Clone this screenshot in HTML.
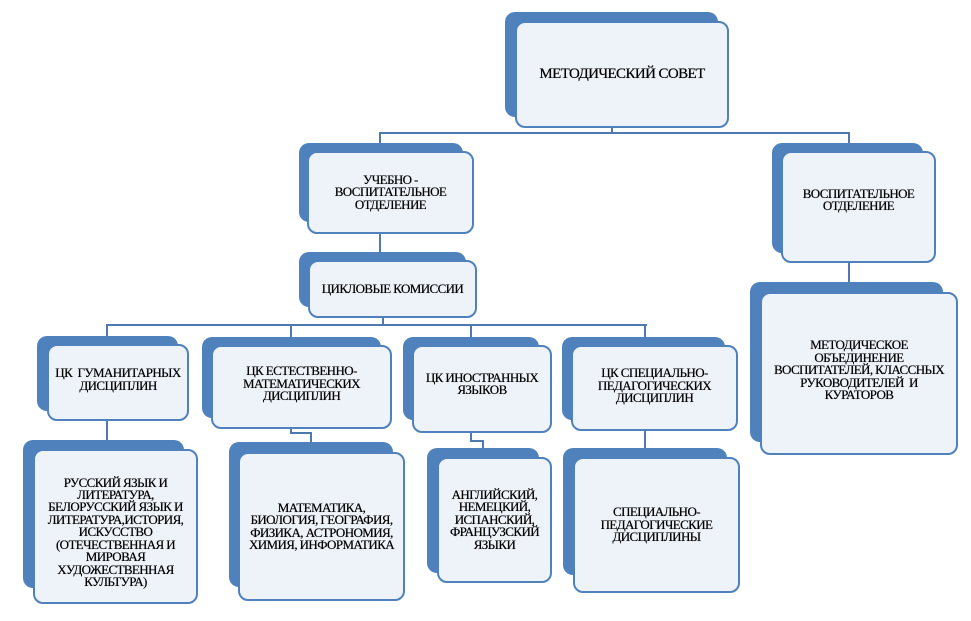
<!DOCTYPE html>
<html><head><meta charset="utf-8"><style>
body{margin:0;width:971px;height:621px;background:#fff;position:relative;overflow:hidden;font-family:"Liberation Serif",serif;}
.b{position:absolute;background:#4f81bd;border-radius:10px;}
.f{position:absolute;background:#eef2f9;border:2px solid #4f81bd;border-radius:10px;box-sizing:border-box;display:flex;align-items:center;justify-content:center;text-align:center;font-size:13px;line-height:12.4px;letter-spacing:-0.6px;color:#000;padding:0 4px;text-shadow:0 0 0.4px #000;}
.l{position:absolute;background:#4f7ab0;}
</style></head><body>
<div class="l" style="left:611px;top:126px;width:2px;height:8px"></div>
<div class="l" style="left:379px;top:132px;width:471px;height:2px"></div>
<div class="l" style="left:379px;top:132px;width:2px;height:12px"></div>
<div class="l" style="left:848px;top:132px;width:2px;height:12px"></div>
<div class="l" style="left:379px;top:232px;width:2px;height:22px"></div>
<div class="l" style="left:848px;top:261px;width:2px;height:25px"></div>
<div class="l" style="left:382px;top:316px;width:2px;height:10px"></div>
<div class="l" style="left:106px;top:324px;width:541px;height:2px"></div>
<div class="l" style="left:106px;top:324px;width:2px;height:14px"></div>
<div class="l" style="left:290px;top:324px;width:2px;height:14px"></div>
<div class="l" style="left:470px;top:324px;width:2px;height:14px"></div>
<div class="l" style="left:644px;top:324px;width:2px;height:14px"></div>
<div class="l" style="left:106px;top:419px;width:2px;height:22px"></div>
<div class="l" style="left:290px;top:427px;width:2px;height:7px"></div>
<div class="l" style="left:290px;top:432px;width:22px;height:2px"></div>
<div class="l" style="left:310px;top:432px;width:2px;height:12px"></div>
<div class="l" style="left:470px;top:431px;width:2px;height:11px"></div>
<div class="l" style="left:470px;top:440px;width:14px;height:2px"></div>
<div class="l" style="left:482px;top:440px;width:2px;height:10px"></div>
<div class="l" style="left:644px;top:429px;width:2px;height:20px"></div>

<div class="b" style="left:505px;top:12px;width:213px;height:105px"></div>
<div class="f" style="left:515px;top:21px;width:214px;height:107px;font-size:15px">МЕТОДИЧЕСКИЙ СОВЕТ</div>

<div class="b" style="left:299px;top:143px;width:164px;height:79px"></div>
<div class="f" style="left:307px;top:151px;width:167px;height:83px">УЧЕБНО -<br>ВОСПИТАТЕЛЬНОЕ<br>ОТДЕЛЕНИЕ</div>

<div class="b" style="left:299px;top:252px;width:167px;height:55px"></div>
<div class="f" style="left:308px;top:260px;width:169px;height:58px">ЦИКЛОВЫЕ КОМИССИИ</div>

<div class="b" style="left:772px;top:143px;width:151px;height:110px"></div>
<div class="f" style="left:781px;top:151px;width:155px;height:112px;padding-bottom:14px">ВОСПИТАТЕЛЬНОЕ<br>ОТДЕЛЕНИЕ</div>

<div class="b" style="left:750px;top:282px;width:193px;height:160px"></div>
<div class="f" style="left:760px;top:292px;width:198px;height:163px;padding-bottom:6px">МЕТОДИЧЕСКОЕ<br>ОБЪЕДИНЕНИЕ<br>ВОСПИТАТЕЛЕЙ, КЛАССНЫХ<br>РУКОВОДИТЕЛЕЙ&nbsp; И<br>КУРАТОРОВ</div>

<div class="b" style="left:37px;top:336px;width:141px;height:75px"></div>
<div class="f" style="left:47px;top:344px;width:142px;height:77px;padding-bottom:6px">ЦК&nbsp; ГУМАНИТАРНЫХ<br>ДИСЦИПЛИН</div>

<div class="b" style="left:202px;top:337px;width:179px;height:81px"></div>
<div class="f" style="left:211px;top:345px;width:181px;height:84px;padding-bottom:6px">ЦК ЕСТЕСТВЕННО-<br>МАТЕМАТИЧЕСКИХ<br>ДИСЦИПЛИН</div>

<div class="b" style="left:403px;top:337px;width:136px;height:83px"></div>
<div class="f" style="left:412px;top:345px;width:140px;height:88px;padding-bottom:10px">ЦК ИНОСТРАННЫХ<br>ЯЗЫКОВ</div>

<div class="b" style="left:562px;top:337px;width:163px;height:83px"></div>
<div class="f" style="left:571px;top:345px;width:167px;height:86px;padding-bottom:4px">ЦК СПЕЦИАЛЬНО-<br>ПЕДАГОГИЧЕСКИХ<br>ДИСЦИПЛИН</div>

<div class="b" style="left:23px;top:440px;width:161px;height:148px"></div>
<div class="f" style="left:33px;top:449px;width:165px;height:155px;padding-top:12px">РУССКИЙ ЯЗЫК И<br>ЛИТЕРАТУРА,<br>БЕЛОРУССКИЙ ЯЗЫК И<br>ЛИТЕРАТУРА,ИСТОРИЯ,<br>ИСКУССТВО<br>(ОТЕЧЕСТВЕННАЯ И<br>МИРОВАЯ<br>ХУДОЖЕСТВЕННАЯ<br>КУЛЬТУРА)</div>

<div class="b" style="left:229px;top:442px;width:164px;height:145px"></div>
<div class="f" style="left:238px;top:452px;width:167px;height:149px">МАТЕМАТИКА,<br>БИОЛОГИЯ, ГЕОГРАФИЯ,<br>ФИЗИКА, АСТРОНОМИЯ,<br>ХИМИЯ, ИНФОРМАТИКА</div>

<div class="b" style="left:427px;top:448px;width:112px;height:125px"></div>
<div class="f" style="left:437px;top:457px;width:115px;height:126px">АНГЛИЙСКИЙ,<br>НЕМЕЦКИЙ,<br>ИСПАНСКИЙ,<br>ФРАНЦУЗСКИЙ<br>ЯЗЫКИ</div>

<div class="b" style="left:563px;top:448px;width:164px;height:127px"></div>
<div class="f" style="left:573px;top:457px;width:167px;height:136px">СПЕЦИАЛЬНО-<br>ПЕДАГОГИЧЕСКИЕ<br>ДИСЦИПЛИНЫ</div>
</body></html>
